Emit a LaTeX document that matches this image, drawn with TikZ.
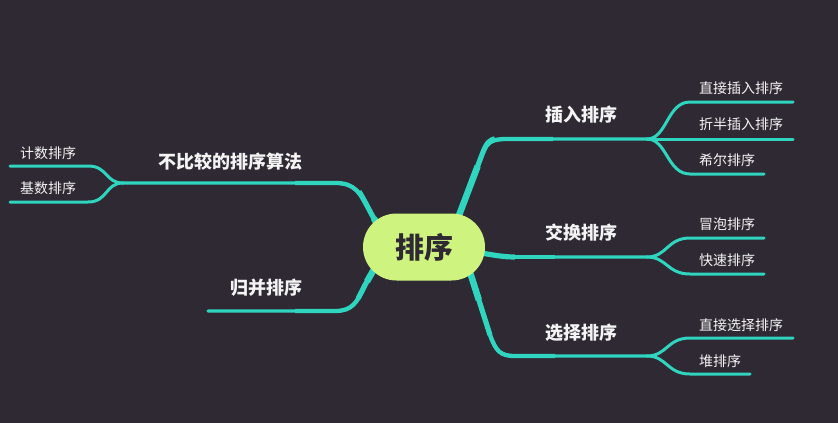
\documentclass[tikz,border=0pt]{standalone}
\usepackage{fontspec}
\usetikzlibrary{calc}
\setmainfont{Noto Sans CJK SC}
\definecolor{bgc}{HTML}{2E2933}
\definecolor{lnc}{HTML}{2FD5BF}
\definecolor{cenc}{HTML}{CEF47F}
\definecolor{txc}{HTML}{F4F4F4}
\tikzset{
  mainlbl/.style={text=txc, font=\fontsize{18}{21}\selectfont\bfseries, inner sep=0pt},
  sublbl/.style={text=txc, font=\fontsize{14}{16}\selectfont, inner sep=0pt, anchor=west},
  twig/.style={draw=lnc, line width=3pt, line cap=round},
  limb/.style={draw=lnc, line width=3.4pt, line cap=round, line join=round},
  trunk/.style={draw=lnc, line width=6.5pt, line cap=butt, line join=round},
  trunkb/.style={draw=lnc, line width=5.2pt, line cap=butt},
  trunkc/.style={draw=lnc, line width=4.3pt, line cap=butt},
}
\begin{document}
\begin{tikzpicture}[x=1pt,y=-1pt]
\fill[bgc] (0,0) rectangle (838,423);
\useasboundingbox (0,0) rectangle (838,423);

% coordinates
\coordinate (s1) at (447,247);
\coordinate (a1) at (483,152);
\coordinate (h1) at (508,139);
\coordinate (p1) at (647,139);
\coordinate (s2) at (440,250);
\coordinate (h2) at (515,257);
\coordinate (p2) at (647,257);
\coordinate (s3) at (462,247);
\coordinate (a3) at (490,335);
\coordinate (h3) at (515,356);
\coordinate (p3) at (647,356);
\coordinate (s4) at (390,247);
\coordinate (a4) at (372,215);
\coordinate (h4) at (335,183);
\coordinate (p4) at (123,183);
\coordinate (s5) at (385,250);
\coordinate (a5) at (365,285);
\coordinate (h5) at (335,311);
\coordinate (e5) at (208,311);

% end points of twigs
\coordinate (t11) at (793,102);
\coordinate (t12) at (793,139);
\coordinate (t13) at (764,174);
\coordinate (t21) at (764,238);
\coordinate (t22) at (764,274);
\coordinate (t31) at (793,338);
\coordinate (t32) at (750,374);
\coordinate (t41) at (10,166);
\coordinate (t42) at (10,202);

% main branches: thin full path, overlays get thicker towards the centre
\draw[limb] (s1) -- (a1) .. controls (488,141) and (493,139) .. (h1) -- (p1);
\draw[trunkc] (a1) .. controls (488,141) and (493,139) .. (h1) -- ++(45,0);
\draw[trunkb] ($(s1)!0.5!(a1)$) -- (a1) .. controls (487,142) and (490,140) .. ++(12,-13.2);
\draw[trunk] (s1) -- ($(s1)!0.85!(a1)$);

\draw[limb] (s2) .. controls (485,252) and (495,257) .. (h2) -- (p2);
\draw[trunkc] (h2) -- ++(40,0);
\draw[trunkb] (470,251.5) .. controls (490,254) and (500,257) .. (h2);
\draw[trunk] (s2) .. controls (460,250) and (470,251) .. (480,252);

\draw[limb] (s3) -- (a3) .. controls (496,351) and (500,356) .. (h3) -- (p3);
\draw[trunkc] (a3) .. controls (496,351) and (500,356) .. (h3) -- ++(40,0);
\draw[trunkb] ($(s3)!0.5!(a3)$) -- (a3);
\draw[trunk] (s3) -- ($(s3)!0.6!(a3)$);

\draw[limb] (s4) -- (a4) .. controls (360,192) and (355,183) .. (h4) -- (p4);
\draw[trunkc] (a4) .. controls (360,192) and (355,183) .. (h4) -- ++(-40,0);
\draw[trunkb] (s4) -- (a4) .. controls (365,202) and (362,196) .. (359,191.5);
\draw[trunk] (s4) -- ($(s4)!0.9!(a4)$);

\draw[limb] (s5) -- (a5) .. controls (357,303) and (352,311) .. (h5) -- (e5);
\draw[trunkc] (a5) .. controls (357,303) and (352,311) .. (h5) -- ++(-40,0);
\draw[trunkb] (s5) -- (a5) .. controls (362,291) and (360,295) .. (358,298.5);
\draw[trunk] (s5) -- ($(s5)!0.9!(a5)$);

% twigs right
\draw[twig] (p1) .. controls (667,139) and (667,102) .. (690,102) -- (t11);
\draw[twig] (p1) -- (t12);
\draw[twig] (p1) .. controls (667,139) and (667,174) .. (690,174) -- (t13);
\draw[twig] (p2) .. controls (667,257) and (667,238) .. (690,238) -- (t21);
\draw[twig] (p2) .. controls (667,257) and (667,274) .. (690,274) -- (t22);
\draw[twig] (p3) .. controls (667,356) and (667,338) .. (690,338) -- (t31);
\draw[twig] (p3) .. controls (667,356) and (667,374) .. (690,374) -- (t32);
% twigs left
\draw[twig] (p4) .. controls (105,183) and (108,166) .. (88,166) -- (t41);
\draw[twig] (p4) .. controls (105,183) and (108,202) .. (88,202) -- (t42);

% centre node
\node[fill=cenc, rounded corners=33.5pt, minimum width=122pt, minimum height=67pt,
      inner sep=0pt, text=bgc, font=\fontsize{29}{33}\selectfont\bfseries] (c) at (424,247) {排序};

% main labels
\node[mainlbl] (l1) at (581,115) {插入排序};
\node[mainlbl] (l2) at (581,233) {交换排序};
\node[mainlbl] (l3) at (581,333) {选择排序};
\node[mainlbl] (l4) at (230,162) {不比较的排序算法};
\node[mainlbl] (l5) at (266,288) {归并排序};

% sub labels
\node[sublbl] (n11) at (699,88) {直接插入排序};
\node[sublbl] (n12) at (699,124) {折半插入排序};
\node[sublbl] (n13) at (699,160) {希尔排序};
\node[sublbl] (n21) at (699,224) {冒泡排序};
\node[sublbl] (n22) at (699,260) {快速排序};
\node[sublbl] (n31) at (699,325) {直接选择排序};
\node[sublbl] (n32) at (699,361) {堆排序};
\node[sublbl] (n41) at (20,153) {计数排序};
\node[sublbl] (n42) at (20,188) {基数排序};
\end{tikzpicture}
\end{document}
